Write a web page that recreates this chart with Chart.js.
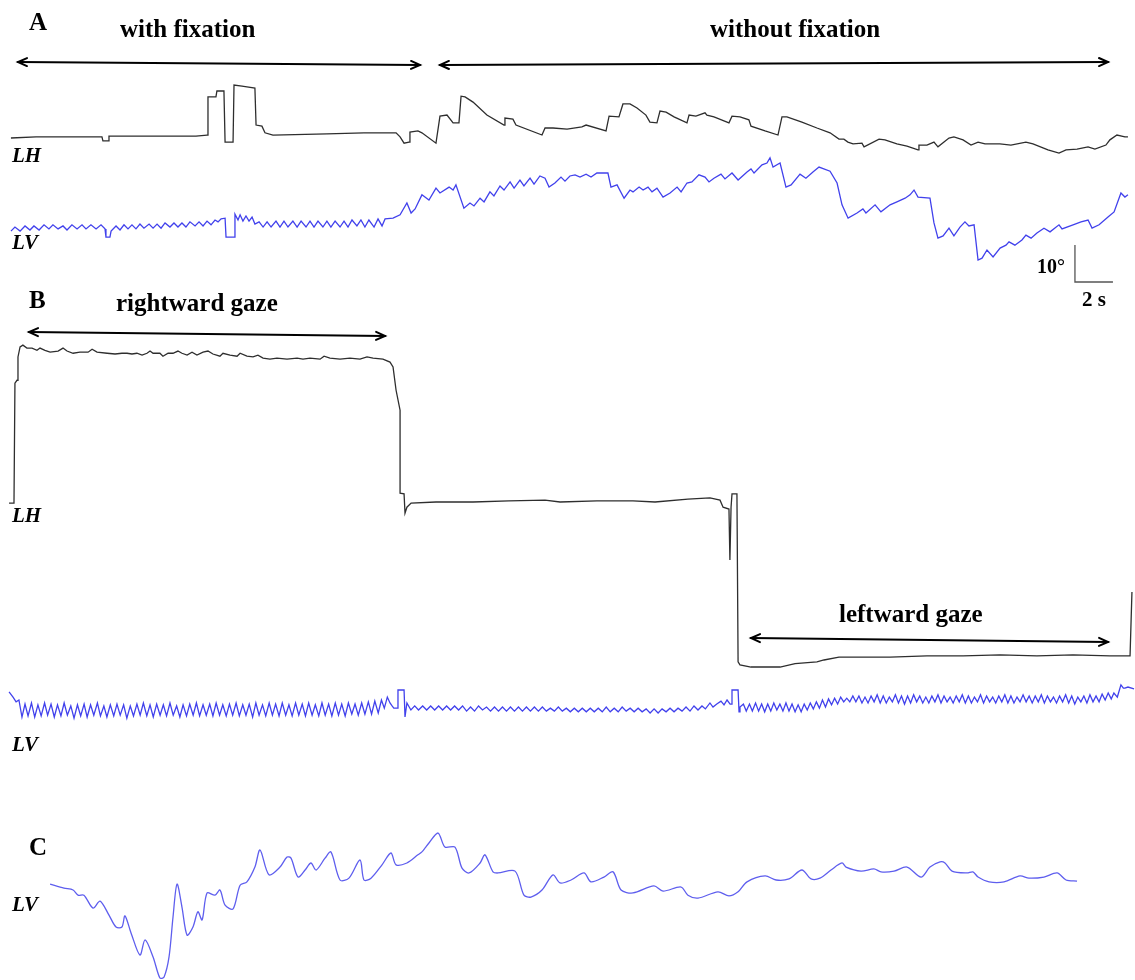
<!DOCTYPE html>
<html><head><meta charset="utf-8">
<script src="https://cdn.jsdelivr.net/npm/chart.js@4/dist/chart.umd.min.js"></script>
<style>
html,body{margin:0;padding:0;background:#fff;}
#wrap{position:relative;width:1135px;height:980px;overflow:hidden;background:#fff;}
#c{position:absolute;left:0;top:0;}
.lbl{position:absolute;font-family:"Liberation Serif","Times New Roman",serif;font-weight:bold;color:#000;white-space:nowrap;line-height:1;}
.it{font-style:italic;}
</style></head>
<body><div id="wrap"><canvas id="c" width="1135" height="980"></canvas>
<div class="lbl" style="left:29px;top:9px;font-size:25px">A</div>
<div class="lbl" style="left:120px;top:16px;font-size:25px">with fixation</div>
<div class="lbl" style="left:710px;top:16px;font-size:25px">without fixation</div>
<div class="lbl it" style="left:12px;top:145px;font-size:21px">LH</div>
<div class="lbl it" style="left:12px;top:232px;font-size:21px">LV</div>
<div class="lbl" style="left:1037px;top:256px;font-size:20px">10°</div>
<div class="lbl" style="left:1082px;top:289px;font-size:21px">2 s</div>
<div class="lbl" style="left:29px;top:287px;font-size:25px">B</div>
<div class="lbl" style="left:116px;top:290px;font-size:25px">rightward gaze</div>
<div class="lbl it" style="left:12px;top:505px;font-size:21px">LH</div>
<div class="lbl" style="left:839px;top:601px;font-size:25px">leftward gaze</div>
<div class="lbl it" style="left:12px;top:734px;font-size:21px">LV</div>
<div class="lbl" style="left:29px;top:834px;font-size:25px">C</div>
<div class="lbl it" style="left:12px;top:894px;font-size:21px">LV</div>
</div>
<script>
// ===== DATA: eye position traces, [time (s), position (deg)] =====
const aLH = [[0.05,0],[1.37,0.3],[3.32,0.3],[4.84,0.3],[4.89,-0.8],[5.16,-0.8],[5.21,0.5],[7.11,0.5],[9.79,0.5],[10.37,0.8],[10.42,11.1],[10.84,11.1],[10.89,12.7],[11.26,12.7],[11.32,-1.1],[11.74,-1.1],[11.79,14.3],[12.21,14.0],[12.47,13.8],[12.89,13.5],[12.95,3.5],[13.26,3.2],[13.42,1.4],[13.84,0.8],[16.68,1.1],[18.63,1.4],[20.32,1.4],[20.53,0.3],[20.74,-1.4],[21.0,-1.1],[21.05,1.6],[21.47,1.9],[21.68,1.4],[22.42,-1.4],[22.63,5.9],[23.0,6.2],[23.32,4.1],[23.63,4.1],[23.74,11.3],[23.95,11.1],[24.37,9.7],[25.1,6.2],[26.0,3.5],[26.05,5.4],[26.47,5.1],[26.63,3.5],[28.0,0.8],[28.16,2.7],[28.58,2.7],[29.32,2.4],[30.1,3.0],[30.32,3.5],[31.37,1.9],[31.53,5.9],[32.05,5.7],[32.26,9.2],[32.63,9.2],[33.0,8.1],[33.47,6.2],[33.68,4.3],[34.05,4.1],[34.21,7.3],[34.53,7.0],[34.95,5.7],[35.63,4.1],[35.74,6.2],[36.1,5.9],[36.58,6.8],[36.68,6.2],[37.05,5.7],[37.84,4.1],[38.0,5.9],[38.42,5.7],[38.89,4.9],[39.0,3.2],[39.74,1.9],[40.42,0.8],[40.63,5.7],[40.89,5.7],[41.68,4.3],[42.47,2.7],[43.16,1.4],[43.63,-0.3],[43.89,-0.3],[44.1,-1.1],[44.37,-1.6],[44.84,-1.4],[44.95,-2.4],[45.74,-0.3],[46.05,-0.5],[46.68,-1.6],[47.21,-2.2],[47.79,-3.2],[47.84,-1.9],[48.26,-1.9],[48.63,-1.1],[48.84,-2.4],[49.42,0],[49.68,0.3],[50.16,-0.5],[50.58,-1.9],[50.95,-1.1],[51.32,-1.6],[52.1,-1.6],[52.68,-1.9],[53.47,-1.1],[53.84,-1.6],[54.63,-3.2],[55.21,-4.1],[55.58,-3.2],[56.16,-3.0],[56.74,-2.4],[57.1,-3.0],[57.68,-1.9],[57.89,-0.5],[58.26,0.8],[58.68,0.3],[58.84,0.3]];

const aLV = [[0.05,-0.3],[0.26,0.8],[0.53,-0.3],[0.79,1.1],[1.05,0],[1.26,1.1],[1.53,0],[1.79,1.4],[2.05,0.3],[2.26,1.4],[2.53,0.3],[2.79,1.1],[3.0,0],[3.26,1.4],[3.53,0.3],[3.79,1.4],[4.0,0.3],[4.26,1.4],[4.53,0.3],[4.79,1.4],[5.0,0.3],[5.05,-1.9],[5.26,-1.9],[5.32,-0.3],[5.58,1.1],[5.79,0],[6.0,1.4],[6.21,0.3],[6.42,1.4],[6.63,0.3],[6.84,1.6],[7.05,0.5],[7.32,1.6],[7.53,0.5],[7.74,1.6],[7.95,0.5],[8.16,1.9],[8.42,0.8],[8.63,1.9],[8.84,0.8],[9.05,1.9],[9.26,0.8],[9.47,2.2],[9.74,1.1],[9.95,2.2],[10.16,1.1],[10.37,2.4],[10.58,1.4],[10.79,2.7],[10.95,2.2],[11.11,3.0],[11.32,3.2],[11.37,-1.9],[11.79,-1.9],[11.84,4.3],[12.0,2.7],[12.11,4.1],[12.26,2.4],[12.42,3.8],[12.58,2.4],[12.74,3.5],[12.89,1.6],[13.11,2.2],[13.32,0.8],[13.53,2.2],[13.74,0.8],[14.0,2.4],[14.21,0.8],[14.42,2.4],[14.63,0.8],[14.89,2.4],[15.11,0.8],[15.32,2.4],[15.58,0.8],[15.79,2.4],[16.0,0.8],[16.21,2.4],[16.47,0.8],[16.68,2.4],[16.89,0.8],[17.11,2.4],[17.37,0.8],[17.58,2.4],[17.79,0.8],[18.0,2.7],[18.26,1.1],[18.47,2.7],[18.68,0.8],[18.89,2.7],[19.16,0.8],[19.37,3.0],[19.58,1.1],[19.74,3.0],[20.16,3.2],[20.53,4.1],[20.89,7.3],[21.11,4.6],[21.32,5.7],[21.68,9.5],[22.05,8.1],[22.42,11.3],[22.63,10.0],[23.11,11.6],[23.32,10.8],[23.47,12.2],[23.89,5.9],[24.21,7.3],[24.42,6.5],[24.74,8.6],[24.95,7.6],[25.26,10.3],[25.47,9.2],[25.79,11.9],[26.0,10.8],[26.32,13.0],[26.53,11.3],[26.84,13.5],[27.05,11.9],[27.37,14.0],[27.58,12.4],[27.89,14.6],[28.16,14.0],[28.37,11.6],[28.68,12.7],[29.0,14.3],[29.21,13.2],[29.47,14.6],[29.74,14.9],[30.0,14.3],[30.32,15.1],[30.58,14.3],[30.89,15.4],[31.16,15.4],[31.47,15.4],[31.63,11.6],[31.95,12.2],[32.32,8.6],[32.63,10.8],[32.79,10.3],[33.11,11.6],[33.32,10.8],[33.58,11.6],[33.79,10.3],[34.05,11.3],[34.37,8.9],[34.74,10.0],[35.11,11.6],[35.32,10.3],[35.63,12.7],[35.89,13.0],[36.26,14.9],[36.58,14.3],[36.79,13.0],[37.05,14.0],[37.42,15.1],[37.63,13.8],[38.0,15.4],[38.32,13.5],[38.79,15.7],[39.0,16.5],[39.16,15.4],[39.58,17.6],[39.84,18.1],[40.0,19.5],[40.16,17.0],[40.53,18.1],[40.84,11.6],[41.11,12.2],[41.58,15.1],[41.89,14.0],[42.26,15.7],[42.58,17.0],[43.16,15.9],[43.53,12.7],[43.79,6.8],[44.11,3.2],[44.58,4.6],[44.89,5.7],[45.05,4.6],[45.53,6.8],[45.84,4.9],[46.32,6.8],[46.68,7.6],[47.11,8.6],[47.37,9.5],[47.58,10.8],[47.79,8.9],[48.42,8.6],[48.63,1.9],[48.84,-2.2],[49.11,-1.6],[49.42,0.5],[49.68,-1.6],[50.0,0.8],[50.26,2.2],[50.47,1.1],[50.74,1.4],[50.95,-8.1],[51.16,-7.6],[51.42,-5.4],[51.74,-7.3],[52.11,-4.9],[52.42,-4.1],[52.58,-3.2],[52.89,-4.1],[53.26,-2.7],[53.47,-1.4],[53.74,-2.2],[54.05,-0.8],[54.42,0.5],[54.74,-0.5],[55.21,1.4],[55.37,0.3],[55.95,1.4],[56.37,2.2],[56.74,2.7],[56.95,0.5],[57.32,1.4],[57.79,3.5],[58.11,4.9],[58.47,10.0],[58.68,8.9],[58.84,9.5]];

const bLH = [[-0.05,-0.3],[0.21,-0.3],[0.26,32.1],[0.37,32.9],[0.42,39.2],[0.53,41.9],[0.68,42.4],[0.89,41.6],[1.16,41.6],[1.42,41.0],[1.58,41.6],[1.84,41.0],[2.11,40.5],[2.53,40.8],[2.79,41.6],[3.0,40.8],[3.32,40.2],[3.68,40.5],[4.11,40.5],[4.32,41.3],[4.58,40.5],[5.11,40.2],[5.53,40.0],[5.89,40.2],[6.16,40.2],[6.42,40.0],[6.68,40.2],[6.95,39.7],[7.21,40.2],[7.37,40.8],[7.53,40.2],[7.89,40.2],[8.05,39.4],[8.32,40.2],[8.58,40.2],[8.84,40.8],[9.05,40.2],[9.32,39.7],[9.58,40.5],[9.84,39.7],[10.16,40.5],[10.42,40.8],[10.68,40.0],[11.05,39.4],[11.21,40.2],[11.58,39.7],[11.95,39.4],[12.11,40.2],[12.47,39.4],[12.79,39.2],[13.05,39.7],[13.32,38.9],[13.68,38.6],[14.05,38.9],[14.58,38.6],[15.11,38.9],[15.42,38.6],[15.79,38.9],[16.32,38.6],[16.53,39.4],[16.84,38.9],[17.37,38.6],[17.89,38.9],[18.42,38.6],[18.79,39.2],[19.11,38.9],[19.63,38.6],[20.0,37.8],[20.16,36.5],[20.32,30.2],[20.53,24.8],[20.53,2.4],[20.74,2.2],[20.79,-3.0],[20.89,-1.4],[21.11,-0.3],[22.42,0],[24.37,0],[26.26,0.3],[28.16,0.5],[28.95,0],[30.89,0.3],[32.79,0.3],[33.95,0],[35.68,0.8],[36.84,1.1],[37.37,0.5],[37.53,-1.4],[37.84,-1.9],[37.89,-15.7],[37.95,-1.4],[38.0,2.2],[38.26,2.2],[38.32,-43.2],[38.42,-44.0],[39.0,-44.6],[39.74,-44.6],[40.53,-44.6],[41.32,-43.7],[42.47,-43.2],[42.84,-42.7],[43.63,-41.9],[46.32,-41.9],[48.26,-41.6],[50.16,-41.6],[52.11,-41.3],[54.05,-41.6],[55.95,-41.3],[57.89,-41.6],[58.95,-41.6],[59.05,-24.3]];

const bLV = [[-0.05,4.9],[0.16,3.5],[0.32,2.2],[0.47,2.7],[0.63,-1.9],[0.79,1.6],[0.95,-1.6],[1.13,1.9],[1.3,-1.9],[1.47,1.4],[1.64,-1.6],[1.82,1.9],[1.98,-1.4],[2.16,1.6],[2.33,-1.9],[2.5,1.4],[2.68,-1.6],[2.85,1.9],[3.02,-1.4],[3.2,1.1],[3.37,-2.2],[3.55,1.4],[3.72,-1.6],[3.9,1.6],[4.06,-1.9],[4.24,1.4],[4.41,-1.4],[4.6,1.9],[4.76,-1.6],[4.94,1.1],[5.1,-1.9],[5.28,1.4],[5.46,-1.6],[5.63,1.6],[5.8,-1.4],[5.98,1.4],[6.15,-2.2],[6.33,1.1],[6.5,-1.6],[6.68,1.6],[6.85,-1.4],[7.02,1.9],[7.2,-1.6],[7.37,1.4],[7.54,-1.9],[7.72,1.6],[7.9,-1.4],[8.07,1.4],[8.24,-1.6],[8.42,1.9],[8.59,-1.4],[8.77,1.1],[8.94,-1.9],[9.11,1.4],[9.29,-1.6],[9.46,1.6],[9.64,-1.4],[9.81,1.9],[9.98,-1.6],[10.16,1.4],[10.33,-1.4],[10.51,1.6],[10.68,-1.6],[10.85,1.9],[11.03,-1.4],[11.2,1.4],[11.38,-1.6],[11.55,1.6],[11.72,-1.4],[11.9,1.9],[12.07,-1.6],[12.25,1.4],[12.42,-1.4],[12.59,1.6],[12.77,-1.9],[12.94,1.9],[13.11,-1.4],[13.29,1.4],[13.46,-1.6],[13.64,1.9],[13.81,-1.4],[13.98,1.6],[14.16,-1.6],[14.33,1.9],[14.51,-1.4],[14.68,1.4],[14.85,-1.6],[15.03,1.9],[15.2,-1.4],[15.38,1.6],[15.55,-1.6],[15.72,1.9],[15.9,-1.4],[16.07,1.4],[16.25,-1.6],[16.42,1.9],[16.59,-1.4],[16.77,1.6],[16.94,-1.6],[17.12,1.9],[17.29,-1.4],[17.46,1.6],[17.64,-1.6],[17.81,1.9],[17.99,-1.1],[18.16,1.6],[18.33,-1.4],[18.51,1.9],[18.68,-1.1],[18.86,2.2],[19.03,-1.1],[19.2,2.4],[19.38,-0.8],[19.55,2.7],[19.7,0.5],[19.86,3.5],[20.0,1.9],[20.11,1.1],[20.2,0.5],[20.42,0.5],[20.42,5.4],[20.74,5.4],[20.79,-1.9],[20.89,1.9],[21.1,0.0],[21.3,1.1],[21.5,0.0],[21.72,1.1],[21.93,0.0],[22.14,1.1],[22.35,0.0],[22.56,1.1],[22.77,0.0],[22.98,1.1],[23.19,0.0],[23.4,1.1],[23.61,0.0],[23.82,1.1],[24.03,-0.3],[24.24,0.8],[24.45,-0.3],[24.66,1.1],[24.87,0.0],[25.08,0.8],[25.29,-0.3],[25.5,0.8],[25.71,-0.3],[25.92,0.8],[26.13,-0.3],[26.34,0.8],[26.55,-0.3],[26.76,0.8],[26.97,-0.3],[27.18,0.8],[27.39,-0.3],[27.6,0.8],[27.81,-0.3],[28.02,0.8],[28.23,-0.3],[28.44,0.5],[28.65,-0.3],[28.86,0.8],[29.07,-0.3],[29.28,0.5],[29.49,-0.5],[29.7,0.5],[29.91,-0.5],[30.12,0.5],[30.33,-0.5],[30.54,0.5],[30.75,-0.5],[30.96,0.5],[31.17,-0.5],[31.38,0.8],[31.59,-0.5],[31.8,0.5],[32.01,-0.5],[32.22,0.8],[32.43,-0.3],[32.64,0.5],[32.85,-0.5],[33.06,0.5],[33.27,-0.5],[33.48,0.3],[33.69,-0.8],[33.9,0.3],[34.11,-0.8],[34.32,0.3],[34.53,-0.5],[34.74,0.5],[34.95,-0.5],[35.16,0.5],[35.37,-0.3],[35.58,0.8],[35.79,-0.3],[36.0,1.1],[36.21,0.0],[36.42,1.1],[36.6,0.3],[36.84,1.9],[37.0,0.8],[37.2,1.6],[37.42,2.4],[37.58,1.4],[37.74,2.7],[37.9,1.6],[38.0,1.6],[38.0,5.4],[38.32,5.4],[38.37,-0.5],[38.42,0.8],[38.6,1.6],[38.75,-0.3],[38.92,1.6],[39.07,-0.3],[39.24,1.9],[39.4,-0.3],[39.56,1.6],[39.72,-0.5],[39.88,1.6],[40.04,-0.3],[40.2,1.9],[40.36,0.0],[40.52,1.6],[40.68,-0.3],[40.84,1.9],[41.0,-0.3],[41.16,1.6],[41.32,-0.5],[41.48,1.4],[41.64,-0.5],[41.8,1.6],[41.96,0.0],[42.12,1.9],[42.28,0.3],[42.44,2.2],[42.6,0.5],[42.76,2.7],[42.92,0.8],[43.08,3.0],[43.24,1.4],[43.4,3.2],[43.56,1.6],[43.72,3.5],[43.88,2.2],[44.04,3.2],[44.2,2.2],[44.36,3.8],[44.52,2.2],[44.68,3.8],[44.84,1.9],[45.0,3.5],[45.16,1.9],[45.32,3.8],[45.48,2.2],[45.64,4.1],[45.8,1.9],[45.96,3.8],[46.12,1.9],[46.28,3.5],[46.44,2.2],[46.6,4.1],[46.76,1.9],[46.92,3.8],[47.08,1.6],[47.24,3.8],[47.4,1.9],[47.56,4.1],[47.72,2.2],[47.88,3.8],[48.04,1.9],[48.2,3.5],[48.36,1.9],[48.52,3.8],[48.68,2.2],[48.84,4.1],[49.0,1.9],[49.16,3.8],[49.32,2.2],[49.48,3.5],[49.64,1.9],[49.8,3.8],[49.96,2.2],[50.12,4.1],[50.28,1.9],[50.44,3.8],[50.6,1.9],[50.76,3.5],[50.92,2.2],[51.08,4.1],[51.24,1.9],[51.4,3.8],[51.56,2.2],[51.72,3.5],[51.88,1.9],[52.04,3.8],[52.2,2.2],[52.36,4.1],[52.52,1.9],[52.68,3.8],[52.84,1.9],[53.0,3.5],[53.16,2.2],[53.32,4.1],[53.48,2.2],[53.64,3.8],[53.8,1.9],[53.96,3.8],[54.12,2.2],[54.28,4.1],[54.44,1.9],[54.6,3.8],[54.76,2.2],[54.92,3.5],[55.08,1.9],[55.24,3.8],[55.4,2.2],[55.56,4.1],[55.72,1.9],[55.88,3.8],[56.04,1.6],[56.2,3.5],[56.36,2.2],[56.52,3.8],[56.68,1.9],[56.84,4.1],[57.0,2.2],[57.16,3.8],[57.32,2.2],[57.48,4.3],[57.64,2.7],[57.8,4.6],[57.96,3.0],[58.1,4.6],[58.28,3.5],[58.47,6.8],[58.6,5.9],[58.68,5.9],[58.84,6.2],[59.16,5.7]];

const cLV = [[2.11,-1.1],[2.84,-2.2],[3.32,-2.7],[3.58,-4.1],[3.89,-4.1],[4.37,-7.6],[4.74,-5.7],[5.21,-9.5],[5.58,-12.7],[5.89,-12.7],[6.05,-9.7],[6.37,-14.3],[6.84,-20.3],[7.11,-16.2],[7.53,-20.8],[7.89,-26.5],[8.11,-26.2],[8.37,-20.8],[8.58,-10.0],[8.79,-1.1],[9.05,-7.3],[9.32,-14.9],[9.63,-12.7],[9.89,-8.6],[10.11,-10.8],[10.37,-3.5],[10.79,-4.1],[11.05,-2.7],[11.32,-6.8],[11.74,-7.8],[12.11,-1.4],[12.47,-0.5],[12.89,3.5],[13.16,8.1],[13.63,1.4],[14.21,3.5],[14.58,6.2],[14.79,5.9],[15.16,0.8],[15.53,2.7],[15.84,4.6],[16.11,2.7],[16.58,5.9],[16.89,7.6],[17.37,0],[17.84,0.5],[18.42,5.4],[18.63,0],[19.0,0.5],[19.58,4.1],[20.05,7.3],[20.32,4.1],[20.89,4.6],[21.47,6.8],[21.68,7.6],[21.84,8.6],[22.05,10.0],[22.53,12.7],[22.89,8.9],[23.42,8.9],[23.79,3.2],[24.16,1.9],[24.74,4.6],[25.0,6.8],[25.42,2.2],[25.68,1.9],[26.58,2.4],[27.05,-4.1],[27.42,-4.6],[28.0,-2.7],[28.58,1.4],[28.95,-0.8],[29.53,0],[30.21,1.9],[30.58,-0.5],[31.26,0.8],[31.74,2.2],[32.16,-2.7],[32.79,-3.5],[33.89,-1.6],[34.37,-3.0],[35.32,-1.9],[35.68,-4.1],[36.21,-4.9],[37.26,-3.2],[37.84,-4.3],[38.32,-3.2],[38.79,-0.5],[39.74,1.1],[40.32,0],[41.0,0.3],[41.68,2.7],[42.16,0.3],[42.63,0.5],[43.21,2.7],[43.79,4.6],[44.0,3.5],[44.79,2.4],[45.47,3.0],[45.84,2.2],[46.53,2.4],[47.21,3.5],[47.95,0.8],[48.42,3.5],[48.95,4.9],[49.21,4.6],[49.58,2.4],[50.37,1.9],[50.68,2.2],[50.95,0.8],[51.53,-0.5],[52.32,-0.5],[53.16,1.1],[53.63,0.5],[54.42,0.8],[55.11,1.9],[55.58,0],[56.16,-0.3]];

// calibration bars: 10 deg and 2 s
const scaleBarDeg = 10;
const scaleBarSec = 2;

// ===== LAYOUT =====
const W = 1135, H = 980;
const PX_PER_SEC = 19;     // 2 s bar = 38 px
const PX_PER_DEG = 3.7;    // 10 deg bar = 37 px
const timeOriginPx = 10;
const zeroPx = { yALH: 138, yALV: 230, yBLH: 502, yBLV: 710, yCLV: 880 };
const scaleBarCorner = { t: 56.05, deg: -14.05, axis: 'yALV' };
// arrows: [tStart, yPxStart, tEnd, yPxEnd]
const arrows = [[0.42, 62, 21.58, 65], [22.63, 65, 57.79, 62], [1.0, 332, 19.74, 336], [39.0, 638, 57.79, 642]];

function yAxis(id) {
  const max = zeroPx[id] / PX_PER_DEG;
  return { type: 'linear', display: false, min: max - H / PX_PER_DEG, max: max };
}
const toXY = arr => arr.map(p => ({ x: p[0], y: p[1] }));
const BLACK = '#2e2e2e', BLUE = '#4141ec', BLUE_C = '#5e5eee';

const ds = (data, axis, color, tension) => ({
  data: toXY(data), yAxisID: axis, borderColor: color, borderWidth: 1.3,
  pointRadius: 0, pointHoverRadius: 0, fill: false, tension: tension || 0, clip: false
});

const overlay = {
  id: 'overlay',
  afterDatasetsDraw(chart) {
    const ctx = chart.ctx, xs = chart.scales.x;
    ctx.save();
    ctx.strokeStyle = '#000';
    ctx.lineWidth = 2;
    ctx.lineCap = 'round';
    arrows.forEach(a => {
      const x1 = xs.getPixelForValue(a[0]), y1 = a[1], x2 = xs.getPixelForValue(a[2]), y2 = a[3];
      ctx.beginPath(); ctx.moveTo(x1, y1); ctx.lineTo(x2, y2); ctx.stroke();
      [[x1, y1, x2, y2], [x2, y2, x1, y1]].forEach(([tx, ty, fx, fy]) => {
        const L = Math.hypot(tx - fx, ty - fy), dx = (tx - fx) / L, dy = (ty - fy) / L;
        const hl = 9, hw = 4;
        ctx.beginPath();
        ctx.moveTo(tx - hl * dx - hw * dy, ty - hl * dy + hw * dx);
        ctx.lineTo(tx, ty);
        ctx.lineTo(tx - hl * dx + hw * dy, ty - hl * dy - hw * dx);
        ctx.stroke();
      });
    });
    // calibration bars
    const ys = chart.scales[scaleBarCorner.axis];
    const cx = xs.getPixelForValue(scaleBarCorner.t), cy = ys.getPixelForValue(scaleBarCorner.deg);
    const topY = ys.getPixelForValue(scaleBarCorner.deg + scaleBarDeg);
    const rightX = xs.getPixelForValue(scaleBarCorner.t + scaleBarSec);
    ctx.strokeStyle = '#555'; ctx.lineWidth = 1.3; ctx.lineCap = 'butt';
    ctx.beginPath(); ctx.moveTo(cx, topY); ctx.lineTo(cx, cy); ctx.lineTo(rightX, cy); ctx.stroke();
    ctx.restore();
  }
};

new Chart(document.getElementById('c'), {
  type: 'line',
  data: {
    datasets: [
      ds(aLH, 'yALH', BLACK), ds(aLV, 'yALV', BLUE),
      ds(bLH, 'yBLH', BLACK), ds(bLV, 'yBLV', BLUE),
      ds(cLV, 'yCLV', BLUE_C, 0.3)
    ]
  },
  options: {
    responsive: false, animation: false, devicePixelRatio: 1,
    layout: { padding: 0 },
    plugins: { legend: { display: false }, tooltip: { enabled: false } },
    events: [],
    scales: {
      x: { type: 'linear', display: false, min: -timeOriginPx / PX_PER_SEC, max: (W - timeOriginPx) / PX_PER_SEC },
      yALH: yAxis('yALH'), yALV: yAxis('yALV'), yBLH: yAxis('yBLH'), yBLV: yAxis('yBLV'), yCLV: yAxis('yCLV')
    }
  },
  plugins: [overlay]
});
</script></body></html>
